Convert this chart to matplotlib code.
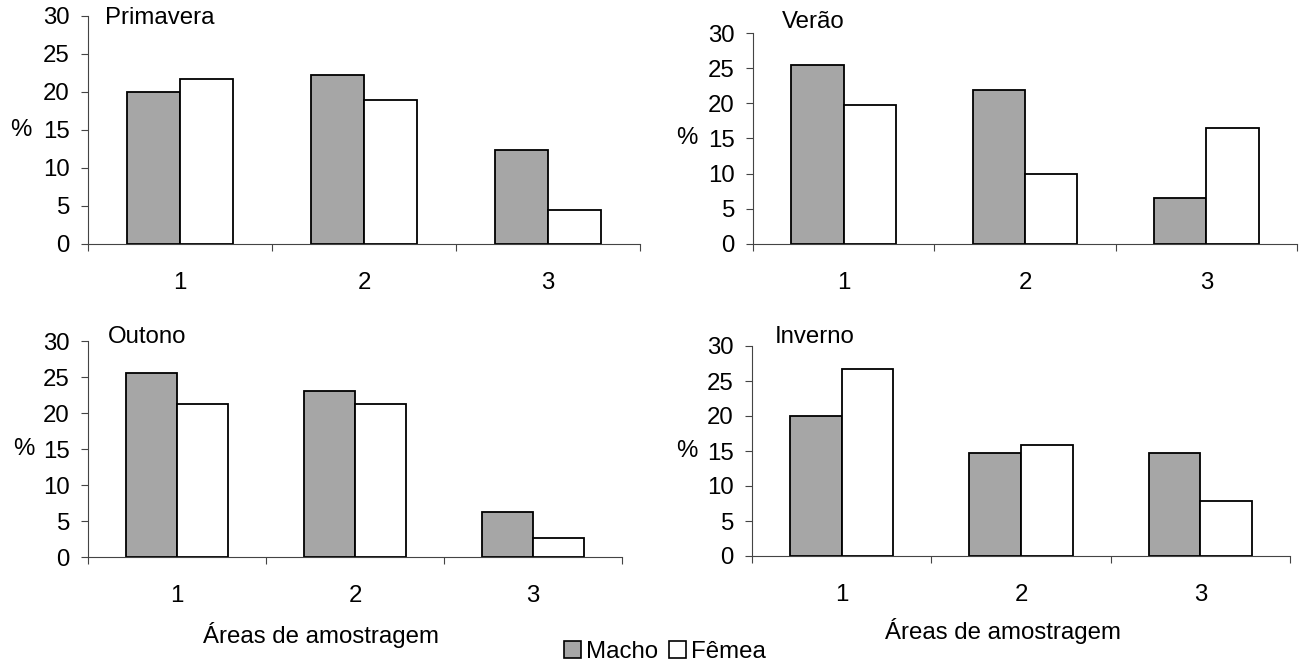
import matplotlib.pyplot as plt
from matplotlib.patches import Patch
from matplotlib.ticker import FixedLocator

plt.rcParams['font.family'] = ['Liberation Sans', 'DejaVu Sans']

# data (% per sampling area)
areas = ['1', '2', '3']
seasons = ['Primavera', 'Verão', 'Outono', 'Inverno']
macho_primavera = [20.0, 22.2, 12.4]
femea_primavera = [21.7, 19.0, 4.5]
macho_verao = [25.4, 21.9, 6.5]
femea_verao = [19.7, 10.0, 16.5]
macho_outono = [25.6, 23.0, 6.3]
femea_outono = [21.3, 21.3, 2.6]
macho_inverno = [20.0, 14.7, 14.7]
femea_inverno = [26.7, 15.8, 7.9]
yticks = [0, 5, 10, 15, 20, 25, 30]

W, H = 1301, 665
FS = 17.3
GRAY = '#a6a6a6'

fig = plt.figure(figsize=(W / 100, H / 100), dpi=100)

def addAxes(left, right, top, bottom):
    return fig.add_axes([left / W, 1 - bottom / H, (right - left) / W, (bottom - top) / H])

# pixel boxes of each plot area (left, right, y=30, y=0)
boxes = [(88, 640, 16, 244), (753, 1297, 33, 244), (88, 622, 341, 557), (752, 1290, 346, 556)]
titlePos = [(0.031, 0.991), (0.053, 1.052), (0.037, 1.018), (0.043, 1.043)]
xlabelPos = [None, None, (0.436, -0.30), (0.467, -0.295)]
machoAll = [macho_primavera, macho_verao, macho_outono, macho_inverno]
femeaAll = [femea_primavera, femea_verao, femea_outono, femea_inverno]

barW = 0.288
for i, box in enumerate(boxes):
    ax = addAxes(*box)
    x = list(range(len(areas)))
    ax.bar([v - barW / 2 for v in x], machoAll[i], width=barW, color=GRAY, edgecolor='black', linewidth=1.3)
    ax.bar([v + barW / 2 for v in x], femeaAll[i], width=barW, color='white', edgecolor='black', linewidth=1.3)
    ax.set_xlim(-0.5, 2.5)
    ax.set_ylim(0, 30)
    ax.set_yticks(yticks)
    ax.set_xticks(x)
    ax.set_xticklabels(areas)
    ax.xaxis.set_minor_locator(FixedLocator([-0.5, 0.5, 1.5, 2.5]))
    ax.tick_params(axis='x', which='major', length=0, pad=20, labelsize=FS)
    ax.tick_params(axis='x', which='minor', length=5, width=0.8, color='#444444', direction='out')
    ax.tick_params(axis='y', length=5, width=0.8, color='#444444', pad=8, labelsize=FS)
    for s in ['top', 'right']:
        ax.spines[s].set_visible(False)
    for s in ['left', 'bottom']:
        ax.spines[s].set_color('#444444')
        ax.spines[s].set_linewidth(0.8)
    ax.set_ylabel('%', rotation=0, fontsize=FS, ha='center', va='center')
    ax.yaxis.set_label_coords(-0.121, 0.5)
    ax.text(titlePos[i][0], titlePos[i][1], seasons[i], transform=ax.transAxes,
            fontsize=FS, ha='left', va='center')
    if xlabelPos[i] is not None:
        ax.set_xlabel('Áreas de amostragem', fontsize=FS)
        ax.xaxis.set_label_coords(*xlabelPos[i])

handles = [Patch(facecolor=GRAY, edgecolor='black', linewidth=1.2, label='Macho'),
           Patch(facecolor='white', edgecolor='black', linewidth=1.2, label='Fêmea')]
fig.legend(handles=handles, loc='center', bbox_to_anchor=(665 / W, 1 - 652 / H), ncol=2,
           frameon=False, fontsize=FS, handlelength=0.72, handleheight=0.72,
           handletextpad=0.2, columnspacing=0.45, borderpad=0)

fig.savefig('out.png', dpi=100)
